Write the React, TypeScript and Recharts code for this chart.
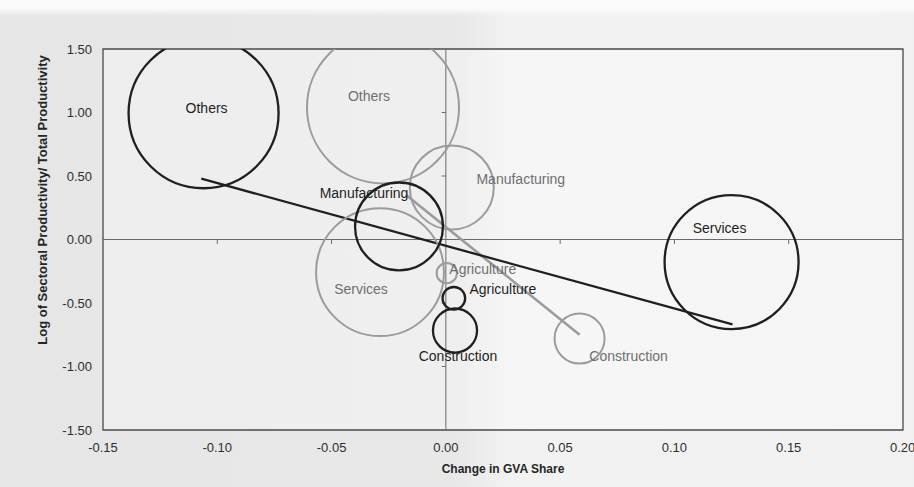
import React from 'react';
import {
  ScatterChart,
  Scatter,
  XAxis,
  YAxis,
  ZAxis,
  CartesianGrid,
  ReferenceLine,
  ReferenceArea,
} from 'recharts';

// Sector names, shared by both bubble sets
const sectors = ['Others', 'Manufacturing', 'Services', 'Agriculture', 'Construction'];

// Dark bubble set: change in GVA share, log relative productivity, weight (%)
const darkShareChange = [-0.106, -0.0205, 0.125, 0.0035, 0.004];
const darkLogProductivity = [0.994, 0.103, -0.178, -0.463, -0.717];
const darkWeight = [44.0, 15.1, 35.1, 1.0, 3.8];

// Light bubble set
const lightShareChange = [-0.0275, 0.0026, -0.0288, 0.0004, 0.0585];
const lightLogProductivity = [1.04, 0.41, -0.257, -0.265, -0.78];
const lightWeight = [45.2, 13.8, 32.0, 0.8, 4.9];

// Fitted trend lines (end points)
const darkTrendX = [-0.107, 0.1254];
const darkTrendY = [0.479, -0.669];
const lightTrendX = [-0.0175, 0.0585];
const lightTrendY = [0.352, -0.75];

// Axis ticks
const xTicks = [-0.15, -0.1, -0.05, 0, 0.05, 0.1, 0.15, 0.2];
const yTicks = [-1.5, -1, -0.5, 0, 0.5, 1, 1.5];

const FONT = '"Liberation Sans", Arial, Helvetica, sans-serif';
const DARK = '#1f1f1f';
const LIGHT = '#9b9b9b';
const LIGHT_TEXT = '#6f6f6f';

// Label placement relative to each bubble centre (px)
const darkLabelOffset: Record<string, [number, number]> = {
  Others: [3, -5],
  Manufacturing: [-35, -33],
  Services: [-12, -34],
  Agriculture: [49, -9],
  Construction: [3, 25],
};
const lightLabelOffset: Record<string, [number, number]> = {
  Others: [-14, -11],
  Manufacturing: [69, -8],
  Services: [-19, 17],
  Agriculture: [36, -4],
  Construction: [49, 17],
};

const build = (xs: number[], ys: number[], zs: number[]) =>
  sectors.map((name, i) => ({ name, x: xs[i], y: ys[i], z: zs[i] }));

const darkData = build(darkShareChange, darkLogProductivity, darkWeight);
const lightData = build(lightShareChange, lightLogProductivity, lightWeight);

const ring = (color: string, width: number) => (props: any) => {
  const { cx, cy } = props;
  const r = props.size != null ? Math.sqrt(props.size / Math.PI) : props.width / 2;
  return <circle cx={cx} cy={cy} r={r} fill="none" stroke={color} strokeWidth={width} />;
};

const tag = (color: string, offsets: Record<string, [number, number]>) => (props: any) => {
  const { cx, cy, payload } = props;
  const [dx, dy] = offsets[payload.name] || [0, 0];
  return (
    <text
      x={cx + dx}
      y={cy + dy}
      textAnchor="middle"
      dominantBaseline="central"
      fontFamily={FONT}
      fontSize={14}
      fill={color}
    >
      {payload.name}
    </text>
  );
};

const YTitle = () => (
  <text
    transform="translate(42,200) rotate(-90)"
    textAnchor="middle"
    dominantBaseline="central"
    fontFamily={FONT}
    fontSize={13}
    fontWeight="bold"
    fill="#262626"
  >
    Log of Sectoral Productivity/ Total Productivity
  </text>
);

const XTitle = () => (
  <text
    x={503}
    y={469}
    textAnchor="middle"
    dominantBaseline="central"
    fontFamily={FONT}
    fontSize={12}
    fontWeight="bold"
    fill="#262626"
  >
    Change in GVA Share
  </text>
);

export default function App() {
  const tickStyle = { fontFamily: FONT, fontSize: 13, fill: '#2e2e2e' };
  return (
    <div
      style={{
        position: 'absolute',
        left: 0,
        top: 0,
        width: 914,
        height: 487,
        background:
          'linear-gradient(to bottom, #fbfbfb 0px, #fbfbfb 8px, rgba(251,251,251,0) 16px), linear-gradient(to right, #e6e6e6 0%, #e8e8e8 50%, #f2f2f2 56%, #f1f1f1 100%)',
      }}
    >
      <ScatterChart width={914} height={487} margin={{ top: 49, right: 11, bottom: 0, left: 0 }}>
        <CartesianGrid horizontal={false} vertical={false} fill="#ffffff" fillOpacity={0.3} />
        <XAxis
          type="number"
          dataKey="x"
          domain={[-0.15, 0.2]}
          ticks={xTicks}
          allowDataOverflow
          axisLine={false}
          tickLine={false}
          tickMargin={7}
          height={57}
          tick={tickStyle}
          tickFormatter={(v: number) => v.toFixed(2)}
          label={<XTitle />}
        />
        <YAxis
          type="number"
          dataKey="y"
          domain={[-1.5, 1.5]}
          ticks={yTicks}
          allowDataOverflow
          axisLine={false}
          tickLine={false}
          tickMargin={5}
          width={103}
          tick={tickStyle}
          tickFormatter={(v: number) => v.toFixed(2)}
          label={<YTitle />}
        />
        <ZAxis type="number" dataKey="z" domain={[0, 100]} range={[0, 40160]} />

        {/* axes crossing at the origin */}
        <ReferenceLine x={0} stroke="#6a6a6a" strokeWidth={1} />
        <ReferenceLine y={0} stroke="#6a6a6a" strokeWidth={1} />
        {xTicks
          .filter((t) => t !== 0 && t > -0.15 && t < 0.2)
          .map((t) => (
            <ReferenceLine
              key={`xt${t}`}
              segment={[
                { x: t, y: 0 },
                { x: t, y: -0.035 },
              ]}
              stroke="#6a6a6a"
            />
          ))}
        {yTicks
          .filter((t) => t !== 0 && t > -1.5 && t < 1.5)
          .map((t) => (
            <ReferenceLine
              key={`yt${t}`}
              segment={[
                { x: -0.0018, y: t },
                { x: 0, y: t },
              ]}
              stroke="#6a6a6a"
            />
          ))}

        <Scatter data={lightData} shape={ring(LIGHT, 2)} isAnimationActive={false} />
        <Scatter data={darkData} shape={ring(DARK, 2.3)} isAnimationActive={false} />

        <ReferenceLine
          segment={[
            { x: lightTrendX[0], y: lightTrendY[0] },
            { x: lightTrendX[1], y: lightTrendY[1] },
          ]}
          stroke={LIGHT}
          strokeWidth={2.6}
        />
        <ReferenceLine
          segment={[
            { x: darkTrendX[0], y: darkTrendY[0] },
            { x: darkTrendX[1], y: darkTrendY[1] },
          ]}
          stroke={DARK}
          strokeWidth={2.3}
        />

        <Scatter data={lightData} shape={tag(LIGHT_TEXT, lightLabelOffset)} isAnimationActive={false} />
        <Scatter data={darkData} shape={tag(DARK, darkLabelOffset)} isAnimationActive={false} />

        {/* plot frame */}
        <ReferenceArea x1={-0.15} x2={0.2} y1={-1.5} y2={1.5} fill="none" stroke="#4a4a4a" strokeWidth={1.3} />
      </ScatterChart>
    </div>
  );
}
